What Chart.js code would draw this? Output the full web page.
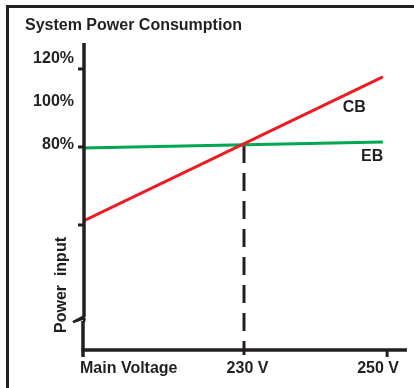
<!DOCTYPE html>
<html>
<head>
<meta charset="utf-8">
<script src="https://cdn.jsdelivr.net/npm/chart.js@4.4.0/dist/chart.umd.min.js"></script>
<style>
    html, body { margin: 0; padding: 0; background: #ffffff; }
    canvas { display: block; }
</style>
</head>
<body>
<canvas id="powerChart" width="414" height="388"></canvas>
<script>
// Напряжение сети (В) и потребляемая мощность (%)
const voltage = [207.5, 249.4];
const cbPower = [42, 115.9];
const ebPower = [79.5, 82.6];

// Рабочая точка 230 В
const nominalVoltage = 230;
const nominalPower = 81;

// Деления и подписи осей
const yTickValues = [120, 80, 40];
const yLabelValues = [120, 100, 80];
const yLabels = ['120%', '100%', '80%'];
const xTickValues = [207.5, 230, 250];
const xLabels = ['Main Voltage', '230 V', '250 V'];

const INK = '#231f20';
const FONT = 'bold 16px "Liberation Sans", Arial, Helvetica, sans-serif';

const yMin = -24.1;
const yMax = 133.3;

// Оси рисуем вручную: разрыв оси Y и несимметричные подписи
const axesPlugin = {
    id: 'schemeAxes',
    afterDatasetsDraw(chart) {
        const ctx = chart.ctx;
        const area = chart.chartArea;
        const x = chart.scales.x;
        const y = chart.scales.y;
        const yl = chart.scales.yl;

        ctx.save();
        ctx.strokeStyle = INK;
        ctx.fillStyle = INK;
        ctx.lineCap = 'butt';
        ctx.lineJoin = 'miter';

        // рамка
        ctx.lineWidth = 3;
        ctx.strokeRect(7.5, 6.5, 600, 600);

        // заголовок
        ctx.font = FONT;
        ctx.textAlign = 'left';
        ctx.textBaseline = 'middle';
        ctx.fillText('System Power Consumption', 25, 26);

        // ось Y с разрывом
        const left = area.left;
        const breakY = area.bottom - 33;
        ctx.lineWidth = 3.5;
        ctx.beginPath();
        ctx.moveTo(left + 1, area.top);
        ctx.lineTo(left + 1, breakY);
        ctx.stroke();
        ctx.beginPath();
        ctx.moveTo(left, breakY + 4);
        ctx.lineTo(left, area.bottom + 7);
        ctx.stroke();
        // зигзаг разрыва
        ctx.lineWidth = 2.5;
        ctx.lineJoin = 'bevel';
        ctx.beginPath();
        ctx.moveTo(left + 1.5, breakY - 1);
        ctx.lineTo(left - 10, breakY + 5);
        ctx.lineTo(left + 1.5, breakY + 1);
        ctx.lineTo(left + 1, breakY + 5);
        ctx.stroke();
        ctx.lineJoin = 'miter';

        // ось X
        ctx.lineWidth = 3.5;
        ctx.beginPath();
        ctx.moveTo(left - 1.5, area.bottom);
        ctx.lineTo(area.right + 2, area.bottom);
        ctx.stroke();

        // деления Y
        ctx.lineWidth = 3;
        yTickValues.forEach(v => {
            const py = y.getPixelForValue(v);
            ctx.beginPath();
            ctx.moveTo(left - 5, py);
            ctx.lineTo(left, py);
            ctx.stroke();
        });

        // подписи Y
        ctx.textAlign = 'right';
        ctx.textBaseline = 'middle';
        yLabelValues.forEach((v, i) => {
            ctx.fillText(yLabels[i], left - 9, yl.getPixelForValue(v) + 1.5);
        });

        // деления и подписи X
        const labelShift = [-3, 3.5, -9];
        const tickDir = [0, 5, 7];
        xTickValues.forEach((v, i) => {
            const px = x.getPixelForValue(v);
            if (tickDir[i]) {
                ctx.beginPath();
                ctx.moveTo(px, area.bottom);
                ctx.lineTo(px, area.bottom + tickDir[i]);
                ctx.stroke();
            }
            ctx.textAlign = i === 0 ? 'left' : 'center';
            ctx.fillText(xLabels[i], px + labelShift[i], area.bottom + 19);
        });

        // подпись оси Y
        ctx.save();
        ctx.translate(62, 285);
        ctx.rotate(-Math.PI / 2);
        ctx.textAlign = 'center';
        ctx.fillText('Power  input', 0, 0);
        ctx.restore();

        // подписи кривых
        ctx.textAlign = 'center';
        ctx.fillText('CB', x.getPixelForValue(245.4), y.getPixelForValue(100.5) + 1);
        ctx.fillText('EB', x.getPixelForValue(247.9), y.getPixelForValue(75.4) + 1);

        ctx.restore();
    }
};

const toPoints = (xs, ys) => xs.map((v, i) => ({ x: v, y: ys[i] }));

new Chart(document.getElementById('powerChart').getContext('2d'), {
    type: 'scatter',
    data: {
        datasets: [
            {
                label: 'CB',
                data: toPoints(voltage, cbPower),
                showLine: true,
                borderColor: '#ed1c24',
                borderWidth: 3,
                pointRadius: 0,
                borderCapStyle: 'butt'
            },
            {
                label: 'EB',
                data: toPoints(voltage, ebPower),
                showLine: true,
                borderColor: '#00a651',
                borderWidth: 3,
                pointRadius: 0,
                borderCapStyle: 'butt'
            },
            {
                label: '230 V',
                data: [
                    { x: nominalVoltage, y: nominalPower },
                    { x: nominalVoltage, y: yMin }
                ],
                showLine: true,
                borderColor: INK,
                borderWidth: 3,
                borderDash: [18, 10],
                pointRadius: 0,
                borderCapStyle: 'butt'
            }
        ]
    },
    options: {
        responsive: false,
        animation: false,
        layout: {
            padding: { left: 83, top: 43, right: 9, bottom: 38 }
        },
        scales: {
            x: { type: 'linear', min: 207.5, max: 252.5, display: false },
            y: { type: 'linear', min: yMin, max: yMax, display: false },
            yl: { type: 'linear', position: 'left', min: -16.28, max: 126.51, display: false }
        },
        plugins: {
            legend: { display: false },
            tooltip: { enabled: false }
        }
    },
    plugins: [axesPlugin]
});
</script>
</body>
</html>
